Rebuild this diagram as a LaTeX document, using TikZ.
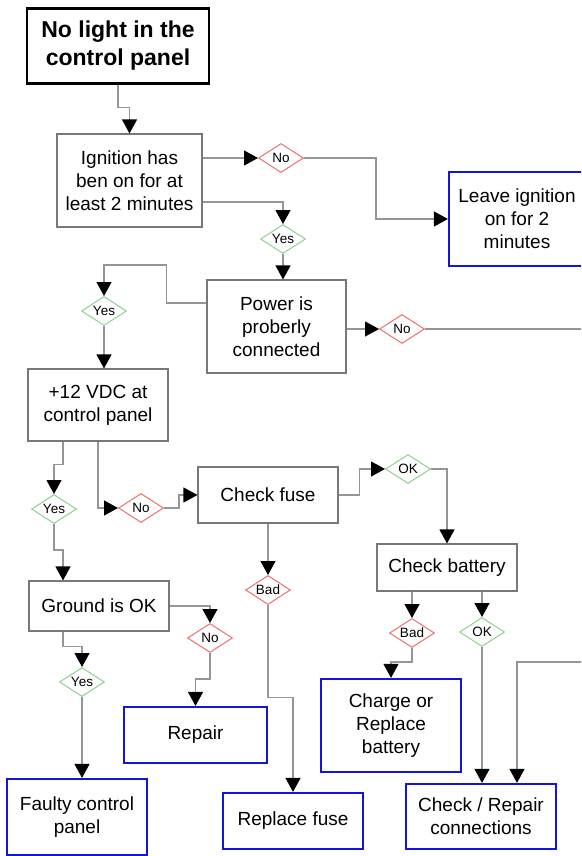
\documentclass[tikz,border=0pt]{standalone}
\usepackage{fontspec}
\setmainfont{Liberation Sans}
\usetikzlibrary{shapes.geometric,arrows.meta,positioning}
\definecolor{linegray}{RGB}{150,150,150}
\definecolor{boxgray}{RGB}{120,120,120}
\definecolor{endblue}{RGB}{20,20,225}
\definecolor{nored}{RGB}{240,110,110}
\definecolor{yesgreen}{RGB}{140,210,140}
\tikzset{
testbox/.style={draw=boxgray, line width=1.1pt, align=center, inner sep=0pt, font=\fontsize{19}{23}\selectfont},
endbox/.style={testbox, draw=endblue, line width=2.2pt},
topbox/.style={testbox, draw=black, line width=2.2pt, font=\fontsize{23}{28}\selectfont\bfseries},
answer/.style={diamond, aspect=1.55, inner sep=0pt, minimum width=45pt, minimum height=29pt, line width=1pt, font=\fontsize{13.5}{15}\selectfont},
yesd/.style={answer, draw=yesgreen},
nod/.style={answer, draw=nored},
flow/.style={draw=linegray, line width=1.2pt, -{Triangle[length=14pt,width=15pt,fill=black,color=black]}},
}
\begin{document}
\begin{tikzpicture}[x=1pt,y=-1pt]
\useasboundingbox (0,0) rectangle (581,856);
\clip (0,0) rectangle (581,856);
\node[topbox, minimum width=182pt, minimum height=75pt] (start) at (118,46) {No light in the\\control panel};
\node[testbox, minimum width=145pt, minimum height=93pt] (ign) at (129.5,180.5) {Ignition has\\ben on for at\\least 2 minutes};
\node[endbox, minimum width=136pt, minimum height=94pt] (leave) at (517,219) {Leave ignition\\on for 2\\minutes};
\node[testbox, minimum width=139pt, minimum height=93pt] (pow) at (276.5,326.5) {Power is\\proberly\\connected};
\node[testbox, minimum width=140pt, minimum height=72pt] (vdc) at (98,405) {+12 VDC at\\control panel};
\node[testbox, minimum width=140pt, minimum height=56pt] (fuse) at (268,495) {Check fuse};
\node[testbox, minimum width=140pt, minimum height=47pt] (batt) at (447,567.5) {Check battery};
\node[testbox, minimum width=140pt, minimum height=50pt] (ground) at (99,606) {Ground is OK};
\node[endbox, minimum width=140pt, minimum height=93pt] (charge) at (391,725.5) {Charge or\\Replace\\battery};
\node[endbox, minimum width=143pt, minimum height=56pt] (repair) at (195.5,735) {Repair};
\node[endbox, minimum width=140pt, minimum height=56pt] (rfuse) at (293,821) {Replace fuse};
\node[endbox, minimum width=150pt, minimum height=65pt] (conn) at (481,816.5) {Check / Repair\\connections};
\node[endbox, minimum width=140pt, minimum height=76pt] (faulty) at (77,817) {Faulty control\\panel};
\node[nod] (no1) at (281,158) {No};
\node[yesd] (yes1) at (283,239) {Yes};
\node[nod] (no2) at (402,329) {No};
\node[yesd] (yes2) at (104,311) {Yes};
\node[yesd] (yes3) at (54,509) {Yes};
\node[nod] (no3) at (141,508) {No};
\node[yesd] (ok1) at (408,469) {OK};
\node[nod] (bad1) at (268,590) {Bad};
\node[nod] (bad2) at (412,633) {Bad};
\node[yesd] (ok2) at (482,632) {OK};
\node[nod] (no4) at (210,638) {No};
\node[yesd] (yes4) at (82,682) {Yes};
\coordinate (outA) at (600,329);
\coordinate (outB) at (600,662);
\path [flow] (start.south) -- ++(0,23) -| (ign.north);
\path [flow] (ign.east |- no1) -- (no1.west);
\path [flow] (no1.east) -- ++(72,0) |- (leave.west);
\path [flow] ([yshift=-21.5pt]ign.east) -| (yes1.north);
\path [flow] (yes1.south) -- (yes1.south |- pow.north);
\path [flow] (pow.east |- no2) -- (no2.west);
\path [draw=linegray, line width=1.2pt] (no2.east) -- (outA);
\path [flow] ([yshift=23.5pt]pow.west) -- ++(-40,0) -- ++(0,-38) -| (yes2.north);
\path [flow] (yes2.south) -- (yes2.south |- vdc.north);
\path [flow] ([xshift=-35pt]vdc.south) -- ++(0,23) -| (yes3.north);
\path [flow] (vdc.south) -- (vdc.south |- no3) -- (no3.west);
\path [flow] (no3.east) -- ++(15,0) |- (fuse.west);
\path [flow] (fuse.east) -- ++(21,0) |- (ok1.west);
\path [flow] (ok1.east) -| (batt.north);
\path [flow] (fuse.south) -- (bad1.north);
\path [flow] (bad1.south) -- ++(0,92.5) -| (rfuse.north);
\path [flow] ([xshift=-35pt]batt.south) -- (bad2.north);
\path [flow] ([xshift=35pt]batt.south) -- (ok2.north);
\path [flow] (bad2.south) -- ++(0,14) -| (charge.north);
\path [flow] (ok2.south) -- (ok2.south |- conn.north);
\path [flow] (outB) -| ([xshift=36pt]conn.north);
\path [flow] (yes3.south) -- ++(0,26) -| ([xshift=-36pt]ground.north);
\path [flow] (ground.east) -| (no4.north);
\path [flow] (no4.south) -- ++(0,26) -| (repair.north);
\path [flow] ([xshift=-36pt]ground.south) -- ++(0,15) -| (yes4.north);
\path [flow] (yes4.south) -- (yes4.south |- faulty.north);
\end{tikzpicture}
\end{document}
